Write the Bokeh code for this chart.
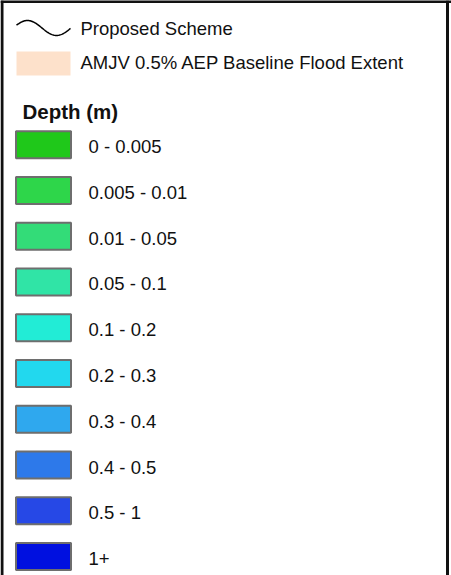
import numpy as np
from bokeh.plotting import figure
from bokeh.models import Range1d, ColumnDataSource
from bokeh.core.properties import value
from bokeh.embed import file_html
from bokeh.resources import INLINE

# Legend content
depth_labels = ["0 - 0.005", "0.005 - 0.01", "0.01 - 0.05", "0.05 - 0.1", "0.1 - 0.2",
                "0.2 - 0.3", "0.3 - 0.4", "0.4 - 0.5", "0.5 - 1", "1+"]
depth_colors = ["#1fc81a", "#2ed64a", "#33dc78", "#30e4a6", "#22ecd6",
                "#22d8ee", "#2fa8ee", "#2d79ea", "#2648e6", "#0010e0"]
line_label = "Proposed Scheme"
extent_label = "AMJV 0.5% AEP Baseline Flood Extent"
extent_color = "#fde1cb"
title_label = "Depth (m)"

FONT = value("Liberation Sans")

p = figure(width=451, height=575, output_backend="svg", toolbar_location=None,
           x_range=Range1d(0, 451), y_range=Range1d(575, 0),
           min_border=0, min_border_left=0, min_border_right=0,
           min_border_top=0, min_border_bottom=0)
p.axis.visible = False
p.grid.visible = False
p.outline_line_color = None
p.background_fill_color = "white"
p.border_fill_color = "white"

# frame lines (left, top, right)
p.segment(x0=[1.5, 0, 447], y0=[0, 1, 0], x1=[1.5, 451, 447], y1=[575, 1, 575],
          line_color="#111111", line_width=3)

# Proposed scheme wave symbol
wx = np.linspace(16, 70, 80)
wy = 27.5 - 7.5 * np.sin(2 * np.pi * (wx - 27) / 58 + np.pi / 2)
p.line(wx, wy, line_color="black", line_width=1.5)
p.text(x=[80], y=[28], text=[line_label], text_font=FONT, text_font_size="18.5px",
       text_baseline="middle", text_align="left", text_color="#111111")

# Baseline flood extent swatch
p.rect(x=[43], y=[63], width=54, height=24, fill_color=extent_color, line_color=None)
p.text(x=[80], y=[62], text=[extent_label], text_font=FONT, text_font_size="18.5px",
       text_baseline="middle", text_align="left", text_color="#111111")

# Title
p.text(x=[22], y=[111], text=[title_label], text_font=FONT, text_font_size="20.5px",
       text_font_style="bold", text_baseline="middle", text_align="left", text_color="#111111")

# Depth classes
n = len(depth_labels)
ys = [144.2 + i * 45.76 for i in range(n)]
src = ColumnDataSource(dict(y=ys, ty=[y + 2 for y in ys], color=depth_colors, label=depth_labels))
p.rect(x=43, y="y", width=55, height=27, fill_color="color", line_color="#6e6e6e",
       line_width=2, source=src)
p.text(x=88, y="ty", text="label", text_font=FONT, text_font_size="18.5px",
       text_baseline="middle", text_align="left", text_color="#111111", source=src)

open("out.html", "w").write(file_html(p, INLINE))
